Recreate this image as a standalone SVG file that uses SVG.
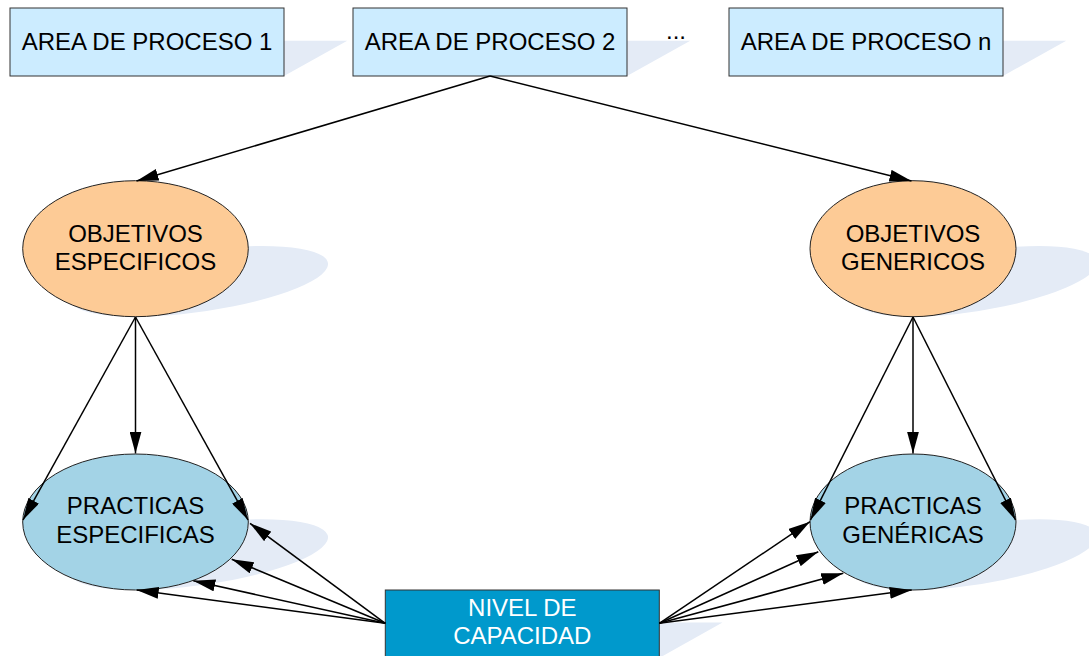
<svg xmlns="http://www.w3.org/2000/svg" width="1089" height="656" viewBox="0 0 1089 656">
  <defs>
    <marker id="arrow" viewBox="0 0 22 12" refX="22" refY="6" markerWidth="22" markerHeight="12" markerUnits="userSpaceOnUse" orient="auto">
      <path d="M0,0 L22,6 L0,12 z" fill="#000"/>
    </marker>
  </defs>
  <style>
    .shadow { fill: #e4ebf6; stroke: none; }
    .area { fill: #ccecff; stroke: #333; stroke-width: 1; }
    .obj { fill: #fdcb96; stroke: #222; stroke-width: 1; }
    .prac { fill: #a3d3e6; stroke: #222; stroke-width: 1; }
    .nivel { fill: #0099cc; stroke: #333; stroke-width: 1; }
    text { font-family: "Liberation Sans", Arial, sans-serif; font-size: 24px; fill: #000; text-anchor: middle; }
    .light { fill: #fff; }
    .edge { stroke: #000; stroke-width: 1.5; fill: none; marker-end: url(#arrow); }
  </style>

  <rect width="1089" height="656" fill="#fff"/>

  <!-- process areas -->
  <g id="area1">
    <rect class="shadow" x="10" y="8" width="274" height="68" transform="matrix(1 0 -0.93 0.52 70.68 36.48)"/>
    <rect class="area" x="10" y="8" width="274" height="68"/>
    <text x="147" y="50">AREA DE PROCESO 1</text>
  </g>
  <g id="area2">
    <rect class="shadow" x="353" y="8" width="274" height="68" transform="matrix(1 0 -0.93 0.52 70.68 36.48)"/>
    <rect class="area" x="353" y="8" width="274" height="68"/>
    <text x="490" y="50">AREA DE PROCESO 2</text>
  </g>
  <g id="dots">
    <text x="676" y="39">...</text>
  </g>
  <g id="arean">
    <rect class="shadow" x="729" y="8" width="274" height="68" transform="matrix(1 0 -0.93 0.52 70.68 36.48)"/>
    <rect class="area" x="729" y="8" width="274" height="68"/>
    <text x="866" y="50">AREA DE PROCESO n</text>
  </g>

  <!-- goals -->
  <g id="obj-especificos">
    <ellipse class="shadow" cx="135.5" cy="248.7" rx="112.8" ry="68" transform="matrix(1 0 -0.93 0.52 294.5 152)"/>
    <ellipse class="obj" cx="135.5" cy="248.7" rx="112.8" ry="68"/>
    <text x="135.5" y="241.7">OBJETIVOS</text>
    <text x="135.5" y="270">ESPECIFICOS</text>
  </g>
  <g id="obj-genericos">
    <ellipse class="shadow" cx="913" cy="248.7" rx="103" ry="68" transform="matrix(1 0 -0.93 0.52 294.5 152)"/>
    <ellipse class="obj" cx="913" cy="248.7" rx="103" ry="68"/>
    <text x="913" y="241.7">OBJETIVOS</text>
    <text x="913" y="270">GENERICOS</text>
  </g>

  <!-- practices -->
  <g id="prac-especificas">
    <ellipse class="shadow" cx="135.5" cy="522" rx="112.8" ry="68" transform="matrix(1 0 -0.93 0.52 548.7 283.2)"/>
    <ellipse class="prac" cx="135.5" cy="522" rx="112.8" ry="68"/>
    <text x="135.5" y="514">PRACTICAS</text>
    <text x="135.5" y="542.7">ESPECIFICAS</text>
  </g>
  <g id="prac-genericas">
    <ellipse class="shadow" cx="913" cy="522" rx="103" ry="68" transform="matrix(1 0 -0.93 0.52 548.7 283.2)"/>
    <ellipse class="prac" cx="913" cy="522" rx="103" ry="68"/>
    <text x="913" y="514">PRACTICAS</text>
    <text x="913" y="542.7">GENÉRICAS</text>
  </g>

  <!-- capability level -->
  <g id="nivel">
    <rect class="shadow" x="385.3" y="590" width="274" height="68" transform="matrix(1 0 -0.93 0.52 611.9 315.8)"/>
    <rect class="nivel" x="385.3" y="590" width="274" height="68"/>
    <text class="light" x="522.3" y="616">NIVEL DE</text>
    <text class="light" x="522.3" y="644">CAPACIDAD</text>
  </g>

  <!-- connectors -->
  <g id="connectors">
    <line class="edge" x1="490" y1="76" x2="136.5" y2="181"/>
    <line class="edge" x1="490" y1="76" x2="911.5" y2="181"/>

    <line class="edge" x1="135.5" y1="317" x2="23" y2="520"/>
    <line class="edge" x1="135.5" y1="317" x2="135.5" y2="453.5"/>
    <line class="edge" x1="135.5" y1="317" x2="248" y2="520"/>

    <line class="edge" x1="913" y1="317" x2="810.5" y2="520"/>
    <line class="edge" x1="913" y1="317" x2="913" y2="453.5"/>
    <line class="edge" x1="913" y1="317" x2="1015.5" y2="520"/>

    <line class="edge" x1="385.3" y1="623.3" x2="250" y2="523.3"/>
    <line class="edge" x1="385.3" y1="623.3" x2="231.7" y2="559.3"/>
    <line class="edge" x1="385.3" y1="623.3" x2="193.3" y2="580.7"/>
    <line class="edge" x1="385.3" y1="623.3" x2="136.7" y2="590"/>

    <line class="edge" x1="659.3" y1="623.3" x2="810" y2="521.7"/>
    <line class="edge" x1="659.3" y1="623.3" x2="818.3" y2="551.7"/>
    <line class="edge" x1="659.3" y1="623.3" x2="843.3" y2="573.3"/>
    <line class="edge" x1="659.3" y1="623.3" x2="911.7" y2="590"/>
  </g>
</svg>
